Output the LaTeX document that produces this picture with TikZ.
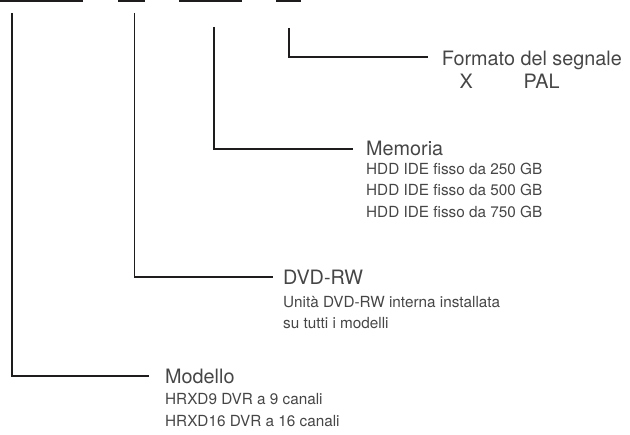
\documentclass[tikz,border=0pt]{standalone}
\usepackage{fontspec}
\setmainfont{TeX Gyre Heros}
\definecolor{linecol}{HTML}{1E1C1D}
\definecolor{txtcol}{HTML}{464646}
\begin{document}
\begin{tikzpicture}[x=1pt,y=-1pt,
  conn/.style={line width=1.8pt, draw=linecol},
  bar/.style={fill=linecol},
  title/.style={anchor=base west, inner sep=0pt, text depth=0pt, text=txtcol, font=\fontsize{19.8}{23}\selectfont},
  sub/.style={anchor=base west, inner sep=0pt, text=txtcol, font=\fontsize{15.3}{18}\selectfont}]
\useasboundingbox (0,0) rectangle (630,435);
\clip (0,0) rectangle (630,435);
% cut-off bars at the top
\fill[bar] (0,-3) rectangle (83,1.7);
\fill[bar] (118,-3) rectangle (145,1.7);
\fill[bar] (179,-3) rectangle (242,1.7);
\fill[bar] (276,-3) rectangle (301,1.7);
\coordinate (t1) at (12,13);
\coordinate (t2) at (134.5,13);
\coordinate (t3) at (214,27);
\coordinate (t4) at (289,28);
% texts
\node[title] (fmt) at (441.7,65.7) {Formato del segnale};
\node[title] (fmtv) at (459.3,88.3) {X\hspace{51pt}PAL};
\node[title] (mem) at (366,156) {Memoria};
\node[sub] (m1) at (366,174.3) {HDD IDE fisso da 250 GB};
\node[sub] (m2) at (366,195.7) {HDD IDE fisso da 500 GB};
\node[sub] (m3) at (366,217.7) {HDD IDE fisso da 750 GB};
\node[title] (dvd) at (283,284.3) {DVD-RW};
\node[sub] (d1) at (283,307.3) {Unità DVD-RW interna installata};
\node[sub] (d2) at (283,329) {su tutti i modelli};
\node[title] (mod) at (165,383.3) {Modello};
\node[sub] (h1) at (165,405) {HRXD9 DVR a 9 canali};
\node[sub] (h2) at (165,426.7) {HRXD16 DVR a 16 canali};
% connectors
\draw[conn, shorten >=13.7pt] (t4) |- ([yshift=1.5pt]fmt.west);
\draw[conn, shorten >=12.8pt] (t3) |- (mem.west);
\draw[conn, shorten >=10.5pt] (t2) |- (dvd.west);
\draw[conn, shorten >=16pt] (t1) |- (mod.west);
\end{tikzpicture}
\end{document}
